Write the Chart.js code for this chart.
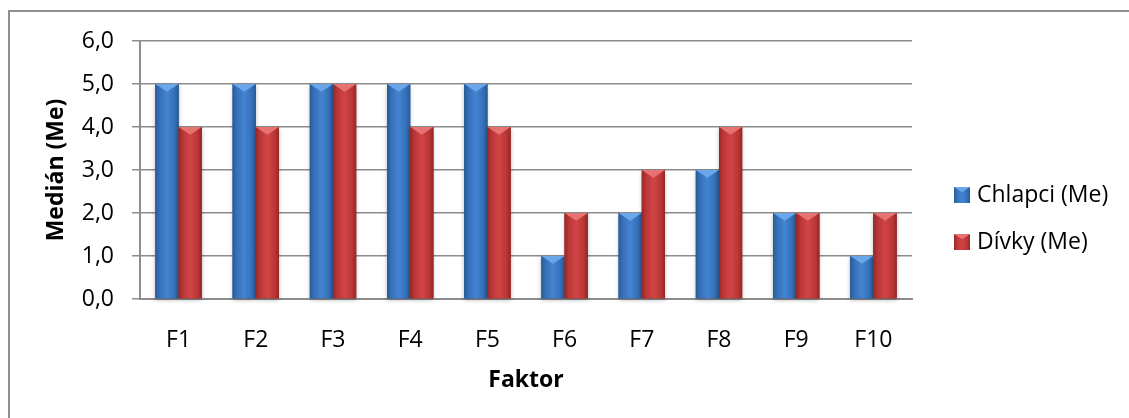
<!DOCTYPE html>
<html>
<head>
<meta charset="utf-8">
<script src="https://cdn.jsdelivr.net/npm/chart.js@4"></script>
<style>
  body { margin: 0; background: #fff; }
  #wrap { position: relative; width: 1129px; height: 418px; overflow: hidden; }
  #frame { position: absolute; left: 8px; top: 10px; width: 1200px; height: 500px;
           border-left: 2px solid #8f8f8f; border-top: 2px solid #8f8f8f; }
  canvas { position: absolute; left: 0; top: 0; }
</style>
</head>
<body>
<div id="wrap">
  <div id="frame"></div>
  <canvas id="medianChart" width="1129" height="418"></canvas>
</div>
<script>
// data
const factors = ['F1', 'F2', 'F3', 'F4', 'F5', 'F6', 'F7', 'F8', 'F9', 'F10'];
const boysMedian = [5, 5, 5, 5, 5, 1, 2, 3, 2, 1];
const girlsMedian = [4, 4, 5, 4, 4, 2, 3, 4, 2, 2];
const yTickLabels = ['0,0', '1,0', '2,0', '3,0', '4,0', '5,0', '6,0'];

const FONT = "'Open Sans', 'DejaVu Sans', sans-serif";
const GRID = '#8c8c8c';

// bar look: darker edges, lighter middle, little bevel on top
const styles = [
  { edge: '#2a5a96', mid: '#4384d2', side: '#3670b8', cap: '#6aa6ea' },
  { edge: '#952828', mid: '#d14545', side: '#bb3636', cap: '#e77272' }
];

function fillBar(ctx, left, top, w, h, st) {
  const g = ctx.createLinearGradient(left, 0, left + w, 0);
  g.addColorStop(0, st.edge);
  g.addColorStop(0.18, st.side);
  g.addColorStop(0.5, st.mid);
  g.addColorStop(0.82, st.side);
  g.addColorStop(1, st.edge);
  ctx.fillStyle = g;
  ctx.fillRect(left, top, w, h);
  // top bevel
  const capH = Math.min(w * 0.33, h / 2);
  ctx.fillStyle = st.cap;
  ctx.beginPath();
  ctx.moveTo(left, top);
  ctx.lineTo(left + w, top);
  ctx.lineTo(left + w / 2, top + capH);
  ctx.closePath();
  ctx.fill();
}

const barLook = {
  id: 'barLook',
  afterDatasetsDraw(chart) {
    const ctx = chart.ctx;
    chart.data.datasets.forEach((ds, i) => {
      const meta = chart.getDatasetMeta(i);
      meta.data.forEach(bar => {
        const p = bar.getProps(['x', 'y', 'base', 'width'], true);
        const left = p.x - p.width / 2;
        const top = Math.min(p.y, p.base);
        const h = Math.abs(p.base - p.y);
        ctx.save();
        ctx.shadowColor = 'rgba(0,0,0,0.28)';
        ctx.shadowBlur = 4;
        ctx.shadowOffsetY = 2;
        ctx.fillStyle = styles[i].edge;
        ctx.fillRect(left, top, p.width, h);
        ctx.restore();
        ctx.save();
        fillBar(ctx, left, top, p.width, h, styles[i]);
        ctx.restore();
      });
    });
  }
};

const sideLegend = {
  id: 'sideLegend',
  afterDraw(chart) {
    const ctx = chart.ctx;
    const area = chart.chartArea;
    const x = area.right + 42;
    chart.data.datasets.forEach((ds, i) => {
      const cy = area.top + 154 + i * 47;
      ctx.save();
      fillBar(ctx, x, cy - 8, 16, 16, styles[i]);
      ctx.fillStyle = '#000';
      ctx.font = '23px ' + FONT;
      ctx.textBaseline = 'middle';
      ctx.fillText(ds.label, x + 23, cy);
      ctx.restore();
    });
  }
};

const ctx = document.getElementById('medianChart').getContext('2d');
new Chart(ctx, {
  type: 'bar',
  data: {
    labels: factors,
    datasets: [
      { label: 'Chlapci (Me)', data: boysMedian, backgroundColor: styles[0].mid,
        categoryPercentage: 0.6, barPercentage: 1.0 },
      { label: 'Dívky (Me)', data: girlsMedian, backgroundColor: styles[1].mid,
        categoryPercentage: 0.6, barPercentage: 1.0 }
    ]
  },
  options: {
    responsive: false,
    animation: false,
    layout: { padding: { top: 41, right: 217, bottom: 0, left: 0 } },
    plugins: {
      legend: { display: false },
      tooltip: { enabled: false }
    },
    scales: {
      x: {
        grid: { display: true, drawOnChartArea: false, drawTicks: false },
        border: { display: true, color: GRID, width: 2 },
        ticks: { color: '#000', font: { family: FONT, size: 23 }, padding: 28 },
        title: { display: true, text: 'Faktor', color: '#000',
                 font: { family: FONT, size: 23, weight: 'bold' }, padding: { top: 0, bottom: 24 } },
        afterFit(scale) { scale.height = 119; }
      },
      y: {
        min: 0,
        max: 6,
        ticks: {
          stepSize: 1,
          color: '#000',
          font: { family: FONT, size: 23 },
          padding: 18,
          callback: (value, index) => yTickLabels[index]
        },
        grid: { color: GRID, lineWidth: 1.5, tickLength: 8, drawTicks: true },
        border: { display: true, color: GRID, width: 2 },
        title: { display: true, text: 'Medián (Me)', color: '#000',
                 font: { family: FONT, size: 23, weight: 'bold' }, padding: { top: 43, bottom: 0 } },
        afterFit(scale) { scale.width = 140; }
      }
    }
  },
  plugins: [barLook, sideLegend]
});
</script>
</body>
</html>
